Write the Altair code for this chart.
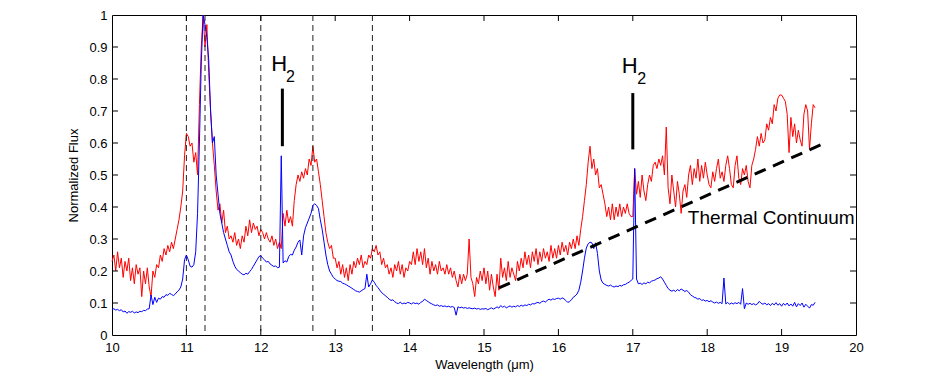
import altair as alt
import pandas as pd

# ---------------- data ----------------
STEP = 0.025  # wavelength grid step (µm), starting at 10.0

red_10 = [0.23,0.25,0.20,0.26,0.21,0.24,0.18,0.23,0.20,0.24,
          0.17,0.21,0.16,0.22,0.19,0.21,0.12,0.20,0.16,0.21,
          0.15,0.12,0.20,0.18,0.22,0.21,0.25,0.23,0.27,0.25,
          0.28,0.26,0.29,0.27,0.30,0.33,0.36,0.40,0.45,0.56]
red_11 = [0.63,0.62,0.59,0.60,0.54,0.57,0.50,0.72,0.90,1.00,
          0.90,0.97,0.82,0.70,0.60,0.53,0.45,0.39,0.41,0.35,
          0.39,0.32,0.34,0.30,0.31,0.29,0.32,0.28,0.30,0.27,
          0.31,0.29,0.34,0.31,0.36,0.32,0.35,0.33,0.34,0.31]
red_12 = [0.33,0.32,0.30,0.32,0.30,0.29,0.31,0.28,0.30,0.27,
          0.29,0.27,0.38,0.34,0.39,0.35,0.37,0.34,0.42,0.47,
          0.50,0.48,0.51,0.49,0.52,0.50,0.55,0.53,0.59,0.54,
          0.55,0.51,0.47,0.42,0.37,0.32,0.29,0.27,0.28,0.24]
red_13 = [0.24,0.21,0.23,0.19,0.22,0.18,0.21,0.17,0.22,0.19,
          0.23,0.21,0.24,0.22,0.25,0.21,0.23,0.22,0.25,0.24,
          0.27,0.26,0.28,0.25,0.26,0.22,0.24,0.21,0.22,0.19,
          0.21,0.18,0.22,0.20,0.23,0.19,0.22,0.18,0.21,0.20]
red_14 = [0.23,0.22,0.26,0.22,0.27,0.23,0.26,0.22,0.27,0.21,
          0.24,0.19,0.23,0.20,0.22,0.19,0.23,0.20,0.21,0.19,
          0.22,0.19,0.21,0.18,0.20,0.17,0.15,0.19,0.16,0.19,
          0.17,0.19,0.30,0.18,0.16,0.12,0.18,0.16,0.20,0.17]
red_15 = [0.21,0.16,0.20,0.14,0.19,0.15,0.12,0.19,0.14,0.24,
          0.18,0.21,0.17,0.23,0.18,0.21,0.19,0.17,0.23,0.20,
          0.24,0.21,0.26,0.22,0.25,0.21,0.26,0.23,0.27,0.22,
          0.26,0.23,0.27,0.24,0.26,0.23,0.28,0.24,0.27,0.24]
red_16 = [0.28,0.25,0.29,0.26,0.28,0.25,0.29,0.27,0.30,0.27,
          0.31,0.28,0.33,0.37,0.42,0.47,0.54,0.59,0.52,0.55,
          0.50,0.52,0.46,0.47,0.44,0.41,0.37,0.40,0.36,0.41,
          0.36,0.40,0.37,0.41,0.37,0.40,0.38,0.41,0.38,0.37]
red_17 = [0.37,0.52,0.44,0.48,0.43,0.50,0.45,0.42,0.47,0.50,
          0.48,0.53,0.54,0.52,0.55,0.53,0.56,0.50,0.65,0.46,
          0.41,0.50,0.45,0.40,0.48,0.44,0.38,0.45,0.47,0.43,
          0.50,0.53,0.47,0.52,0.49,0.55,0.48,0.53,0.49,0.54]
red_18 = [0.50,0.47,0.46,0.51,0.48,0.52,0.55,0.49,0.51,0.48,
          0.53,0.56,0.52,0.47,0.46,0.53,0.56,0.49,0.47,0.52,
          0.50,0.53,0.48,0.46,0.53,0.55,0.58,0.62,0.59,0.63,
          0.60,0.61,0.66,0.64,0.68,0.66,0.72,0.70,0.74,0.75]
red_19 = [0.75,0.74,0.73,0.69,0.57,0.68,0.62,0.66,0.60,0.64,
          0.61,0.59,0.69,0.72,0.70,0.58,0.66,0.72,0.71]

blue_10 = [0.080,0.082,0.078,0.080,0.076,0.079,0.072,0.075,0.068,0.073,
           0.071,0.074,0.069,0.072,0.070,0.074,0.073,0.077,0.076,0.081,
           0.082,0.125,0.095,0.118,0.102,0.115,0.112,0.120,0.118,0.126,
           0.124,0.130,0.127,0.123,0.128,0.135,0.140,0.150,0.175,0.235]
blue_11 = [0.250,0.235,0.215,0.212,0.220,0.260,0.380,0.600,0.850,1.000,
           0.970,0.930,0.860,0.700,0.600,0.620,0.500,0.440,0.380,0.350,
           0.320,0.300,0.280,0.260,0.250,0.230,0.215,0.205,0.200,0.195,
           0.190,0.188,0.193,0.190,0.198,0.205,0.215,0.225,0.235,0.245]
blue_12 = [0.248,0.240,0.235,0.228,0.230,0.222,0.218,0.214,0.216,0.210,
           0.212,0.560,0.225,0.232,0.228,0.245,0.252,0.250,0.265,0.275,
           0.290,0.297,0.250,0.310,0.335,0.350,0.365,0.380,0.405,0.410,
           0.405,0.395,0.360,0.330,0.290,0.250,0.220,0.200,0.190,0.180]
blue_13 = [0.175,0.170,0.168,0.167,0.162,0.160,0.157,0.153,0.150,0.146,
           0.142,0.138,0.136,0.134,0.138,0.142,0.145,0.190,0.150,0.160,
           0.172,0.165,0.155,0.148,0.140,0.132,0.128,0.122,0.118,0.112,
           0.108,0.110,0.104,0.100,0.098,0.103,0.097,0.100,0.098,0.102]
blue_14 = [0.100,0.097,0.101,0.098,0.100,0.096,0.102,0.105,0.112,0.108,
           0.104,0.100,0.097,0.094,0.092,0.094,0.090,0.092,0.089,0.091,
           0.088,0.090,0.087,0.089,0.086,0.062,0.088,0.085,0.087,0.084,
           0.086,0.083,0.085,0.083,0.082,0.084,0.081,0.083,0.080,0.082]
blue_15 = [0.081,0.083,0.079,0.082,0.085,0.081,0.084,0.088,0.084,0.092,
           0.087,0.090,0.085,0.088,0.091,0.087,0.090,0.088,0.092,0.089,
           0.093,0.090,0.094,0.092,0.096,0.094,0.098,0.097,0.100,0.102,
           0.099,0.104,0.106,0.103,0.108,0.112,0.109,0.113,0.111,0.114]
blue_16 = [0.115,0.112,0.116,0.113,0.108,0.102,0.104,0.110,0.118,0.122,
           0.128,0.140,0.165,0.200,0.240,0.272,0.285,0.290,0.288,0.270,
           0.288,0.255,0.200,0.172,0.162,0.158,0.155,0.153,0.156,0.152,
           0.150,0.153,0.151,0.155,0.153,0.157,0.158,0.162,0.165,0.170]
blue_17 = [0.175,0.520,0.175,0.160,0.162,0.158,0.163,0.160,0.165,0.163,
           0.168,0.170,0.172,0.176,0.178,0.182,0.175,0.165,0.155,0.145,
           0.140,0.137,0.140,0.136,0.142,0.138,0.144,0.140,0.136,0.139,
           0.134,0.126,0.122,0.118,0.116,0.112,0.114,0.108,0.110,0.106]
blue_18 = [0.108,0.104,0.107,0.103,0.100,0.103,0.099,0.102,0.098,0.178,
           0.097,0.102,0.096,0.100,0.097,0.101,0.098,0.102,0.096,0.145,
           0.082,0.100,0.096,0.099,0.095,0.098,0.094,0.097,0.105,0.099,
           0.096,0.100,0.094,0.098,0.092,0.099,0.094,0.101,0.093,0.098]
blue_19 = [0.090,0.099,0.093,0.100,0.091,0.097,0.090,0.102,0.088,0.098,
           0.092,0.100,0.087,0.096,0.090,0.084,0.095,0.093,0.102]

feature_lines = [11.0, 11.25, 12.0, 12.7, 13.5]

thermal_wl = [15.2, 19.57]
thermal_flux = [0.147, 0.599]

h2_bar_x = [12.29, 17.0]
h2_bar_lo = [0.59, 0.58]
h2_bar_hi = [0.77, 0.756]
h2_H_x = [12.14, 16.85]
h2_H_y = [0.826, 0.819]
h2_sub_x = [12.34, 17.06]
h2_sub_y = [0.79, 0.784]

thermal_label = ["Thermal Continuum"]
thermal_label_x = [17.74]
thermal_label_y = [0.347]

x_tick_values = list(range(10, 21))
y_tick_values = [round(0.1 * i, 1) for i in range(11)]
x_inner_ticks = list(range(11, 20))
y_inner_ticks = [round(0.1 * i, 1) for i in range(1, 10)]

# ---------------- tables ----------------
red_flux = red_10 + red_11 + red_12 + red_13 + red_14 + red_15 + red_16 + red_17 + red_18 + red_19
blue_flux = blue_10 + blue_11 + blue_12 + blue_13 + blue_14 + blue_15 + blue_16 + blue_17 + blue_18 + blue_19


def grid(n):
    return [round(10 + STEP * i, 3) for i in range(n)]


red_df = pd.DataFrame({"wl": grid(len(red_flux)), "flux": red_flux})
blue_df = pd.DataFrame({"wl": grid(len(blue_flux)), "flux": blue_flux})
vline_df = pd.DataFrame({"wl": feature_lines})
thermal_df = pd.DataFrame({"wl": thermal_wl, "flux": thermal_flux})
bar_df = pd.DataFrame({"wl": h2_bar_x, "flux": h2_bar_lo, "hi": h2_bar_hi})
H_df = pd.DataFrame({"wl": h2_H_x, "flux": h2_H_y, "t": ["H", "H"]})
sub_df = pd.DataFrame({"wl": h2_sub_x, "flux": h2_sub_y, "t": ["2", "2"]})
tl_df = pd.DataFrame({"wl": thermal_label_x, "flux": thermal_label_y, "t": thermal_label})
xt_df = pd.DataFrame({"wl": x_inner_ticks})
yt_df = pd.DataFrame({"flux": y_inner_ticks})

W, H = 744, 320
FONT = "Liberation Sans"
TICK = 6

xscale = alt.Scale(domain=[10, 20], nice=False, zero=False)
yscale = alt.Scale(domain=[0, 1], nice=False)

x_axis = alt.Axis(values=x_tick_values, ticks=False, domain=False, grid=False,
                  labelFontSize=13, labelPadding=6, labelFlush=False, labelOverlap=False,
                  labelColor="black", title="Wavelength (μm)", titleFontSize=13,
                  titleFontWeight="normal", titleColor="black", titlePadding=4)
y_axis = alt.Axis(values=y_tick_values, ticks=False, domain=False, grid=False, format="~g",
                  labelFontSize=13, labelPadding=5, labelFlush=False, labelOverlap=False,
                  labelColor="black", title="Normalized Flux", titleFontSize=13,
                  titleFontWeight="normal", titleColor="black", titlePadding=8)


def X(field="wl"):
    return alt.X(f"{field}:Q", scale=xscale, axis=x_axis, title="Wavelength (μm)")


def Y(field="flux"):
    return alt.Y(f"{field}:Q", scale=yscale, axis=y_axis, title="Normalized Flux")


red = alt.Chart(red_df).mark_line(color="#ff0000", strokeWidth=1).encode(
    x=X(), y=Y(), order="wl:Q")
blue = alt.Chart(blue_df).mark_line(color="#0000ff", strokeWidth=1).encode(
    x=X(), y=Y(), order="wl:Q")

vlines = alt.Chart(vline_df).mark_rule(color="#222222", strokeWidth=1, strokeDash=[6, 4]).encode(
    x=X(), y=alt.value(0), y2=alt.value(H))

thermal = alt.Chart(thermal_df).mark_line(color="black", strokeWidth=3, strokeDash=[12, 8]).encode(
    x=X(), y=Y())

bars = alt.Chart(bar_df).mark_rule(color="black", strokeWidth=3).encode(
    x=X(), y=Y(), y2="hi:Q")

H_text = alt.Chart(H_df).mark_text(font=FONT, fontSize=22, align="left", baseline="alphabetic",
                                   color="black").encode(x=X(), y=Y(), text="t:N")
sub_text = alt.Chart(sub_df).mark_text(font=FONT, fontSize=16, align="left", baseline="alphabetic",
                                       color="black").encode(x=X(), y=Y(), text="t:N")
tl_text = alt.Chart(tl_df).mark_text(font=FONT, fontSize=19, align="left", baseline="alphabetic",
                                     color="black").encode(x=X(), y=Y(), text="t:N")

tick_bottom = alt.Chart(xt_df).mark_rule(color="black").encode(
    x=X(), y=alt.value(H), y2=alt.value(H - TICK))
tick_top = alt.Chart(xt_df).mark_rule(color="black").encode(
    x=X(), y=alt.value(0), y2=alt.value(TICK))
tick_left = alt.Chart(yt_df).mark_rule(color="black").encode(
    y=Y(), x=alt.value(0), x2=alt.value(TICK))
tick_right = alt.Chart(yt_df).mark_rule(color="black").encode(
    y=Y(), x=alt.value(W), x2=alt.value(W - TICK))

chart = alt.layer(
    red, vlines, blue, thermal, bars, H_text, sub_text, tl_text,
    tick_bottom, tick_top, tick_left, tick_right
).properties(
    width=W, height=H,
    autosize=alt.AutoSizeParams(type="none"),
    padding={"left": 104, "top": 7, "right": 60, "bottom": 45},
).configure_view(
    stroke="black", strokeWidth=1
).configure_axis(
    labelFont=FONT, titleFont=FONT
)

chart.save("out.html", embed_options={"renderer": "svg", "actions": False})
